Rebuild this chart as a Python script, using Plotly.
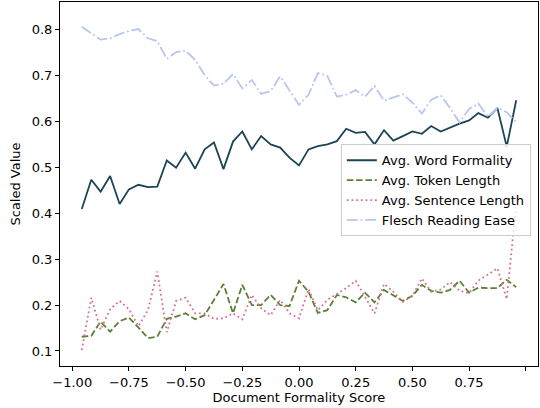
import plotly.graph_objects as go

# Bin centres of the document formality score
formality_score = [
    -0.958, -0.916, -0.875, -0.833, -0.791, -0.750, -0.708, -0.666, -0.625, -0.583,
    -0.542, -0.500, -0.458, -0.416, -0.375, -0.333, -0.291, -0.250, -0.208, -0.167,
    -0.125, -0.083, -0.042, 0.000, 0.042, 0.083, 0.125, 0.167, 0.208, 0.250,
    0.291, 0.333, 0.375, 0.416, 0.458, 0.500, 0.542, 0.583, 0.625, 0.666,
    0.708, 0.750, 0.791, 0.833, 0.875, 0.916, 0.958,
]

word_formality = [
    0.409, 0.473, 0.447, 0.481, 0.420, 0.452, 0.462, 0.457, 0.458, 0.515,
    0.499, 0.532, 0.497, 0.539, 0.554, 0.496, 0.556, 0.578, 0.539, 0.568,
    0.550, 0.543, 0.521, 0.504, 0.539, 0.546, 0.550, 0.557, 0.584, 0.575,
    0.577, 0.550, 0.581, 0.558, 0.568, 0.578, 0.573, 0.590, 0.578, 0.587,
    0.595, 0.602, 0.618, 0.608, 0.629, 0.545, 0.646,
]

token_length = [
    0.131, 0.133, 0.164, 0.142, 0.165, 0.173, 0.151, 0.128, 0.131, 0.170,
    0.175, 0.182, 0.169, 0.178, 0.211, 0.246, 0.182, 0.244, 0.200, 0.200,
    0.222, 0.200, 0.198, 0.253, 0.229, 0.183, 0.189, 0.222, 0.217, 0.206,
    0.227, 0.206, 0.233, 0.222, 0.209, 0.220, 0.244, 0.231, 0.227, 0.233,
    0.253, 0.227, 0.238, 0.237, 0.237, 0.255, 0.239,
]

sentence_length = [
    0.102, 0.216, 0.146, 0.191, 0.209, 0.191, 0.154, 0.189, 0.273, 0.141,
    0.209, 0.216, 0.182, 0.182, 0.170, 0.171, 0.182, 0.169, 0.222, 0.193,
    0.178, 0.211, 0.182, 0.171, 0.235, 0.189, 0.211, 0.224, 0.237, 0.253,
    0.218, 0.182, 0.246, 0.229, 0.207, 0.220, 0.258, 0.229, 0.234, 0.250,
    0.231, 0.226, 0.253, 0.267, 0.280, 0.213, 0.420,
]

flesch_ease = [
    0.806, 0.791, 0.778, 0.781, 0.790, 0.797, 0.801, 0.781, 0.775, 0.736,
    0.751, 0.754, 0.734, 0.701, 0.678, 0.682, 0.703, 0.672, 0.690, 0.660,
    0.666, 0.698, 0.666, 0.636, 0.658, 0.705, 0.699, 0.654, 0.658, 0.668,
    0.654, 0.677, 0.645, 0.652, 0.659, 0.641, 0.617, 0.647, 0.657, 0.629,
    0.598, 0.627, 0.639, 0.610, 0.629, 0.620, 0.598,
]

x_ticks = [-1.0, -0.75, -0.5, -0.25, 0.0, 0.25, 0.5, 0.75, 1.0]
y_ticks = [0.1, 0.2, 0.3, 0.4, 0.5, 0.6, 0.7, 0.8]

FONT = "DejaVu Sans"
FS = 13
LW = 1.8

series = [
    ("Avg. Word Formality", word_formality, "#1b4555", "solid"),
    ("Avg. Token Length", token_length, "#5b8038", "6.5px,2.8px"),
    ("Avg. Sentence Length", sentence_length, "#d8708e", "1.8px,2.9px"),
    ("Flesch Reading Ease", flesch_ease, "#b9c5f3", "11px,2.8px,1.8px,2.8px"),
]

fig = go.Figure()
for name, values, color, dash in series:
    fig.add_trace(go.Scatter(
        x=formality_score, y=values, mode="lines", name=name,
        line=dict(color=color, width=LW, dash=dash),
    ))

axis_common = dict(
    showline=True, linecolor="black", linewidth=1, mirror=True,
    ticks="outside", ticklen=4, tickwidth=1, tickcolor="black",
    showgrid=False, zeroline=False,
    tickfont=dict(family=FONT, size=FS, color="black"),
)

fig.update_xaxes(
    range=[-1.054, 1.054], tickvals=x_ticks, tickformat=".2f",
    title=dict(text="Document Formality Score", font=dict(family=FONT, size=FS, color="black"), standoff=4),
    **axis_common,
)
fig.update_yaxes(
    range=[0.0673, 0.860], tickvals=y_ticks, tickformat=".1f",
    title=dict(text="Scaled Value", font=dict(family=FONT, size=FS, color="black"), standoff=8),
    **axis_common,
)

fig.update_layout(
    width=540, height=408,
    margin=dict(l=60, r=2, t=2, b=42, autoexpand=False),
    paper_bgcolor="white", plot_bgcolor="white",
    font=dict(family=FONT, size=FS, color="black"),
    showlegend=True,
    legend=dict(
        x=0.985, y=0.609, xanchor="right", yanchor="top",
        bgcolor="rgba(255,255,255,0.8)", bordercolor="#cccccc", borderwidth=1,
        font=dict(family=FONT, size=FS, color="black"),
        itemwidth=30, tracegroupgap=0,
    ),
)

fig.write_html("out.html")
